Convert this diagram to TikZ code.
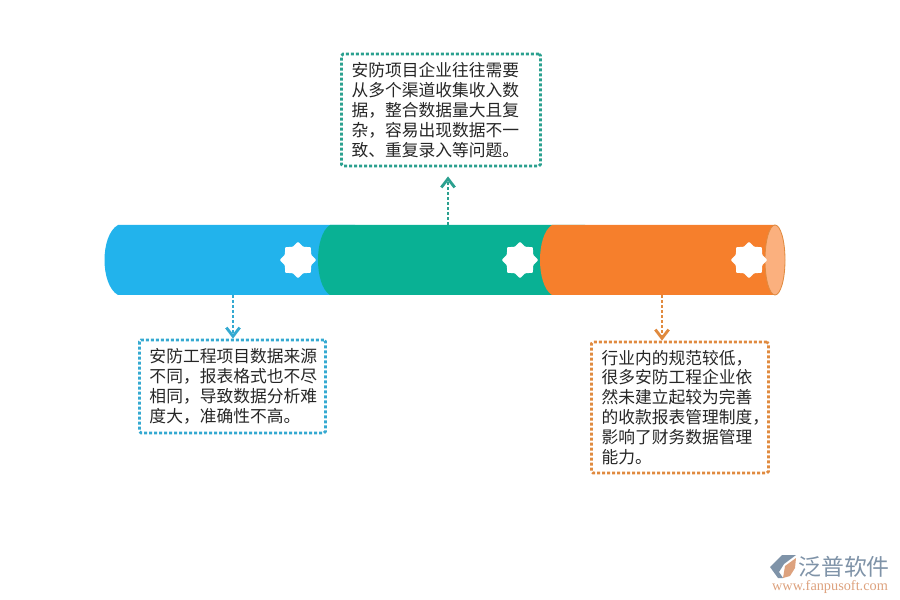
\documentclass[tikz,border=0pt]{standalone}
\usepackage{fontspec}
\newfontfamily\cjk{Noto Sans CJK SC}
\newfontfamily\urlfont{Liberation Serif}
\usetikzlibrary{arrows.meta,shapes.geometric}
\definecolor{barblue}{HTML}{22B3EC}
\definecolor{bargreen}{HTML}{09B194}
\definecolor{barorange}{HTML}{F67F2C}
\definecolor{caporange}{HTML}{FBB07E}
\definecolor{lineblue}{HTML}{34A9D1}
\definecolor{linegreen}{HTML}{2BA08F}
\definecolor{lineorange}{HTML}{E08A3F}
\definecolor{logoblue}{HTML}{7F93A8}
\definecolor{logotan}{HTML}{DDA27E}
\tikzset{
  issuebox/.style={draw=#1, line width=0.85mm, dash pattern=on 0.09cm off 0.06cm, rounded corners=0.05cm,
    align=left, inner xsep=0.3cm, inner ysep=0, text=black!85,
    font=\cjk\fontsize{14.3}{17}\selectfont},
  issuearrow/.style={draw=#1, line width=0.85mm, dash pattern=on 0.09cm off 0.06cm,
    -{Straight Barb[length=0.26cm,width=0.4cm,line width=0.85mm]}},
  startag/.style={star, star points=8, star point ratio=1.3, fill=white, minimum size=1.1cm, inner sep=0, rounded corners=0.03cm},
}
\begin{document}
\begin{tikzpicture}[x=0.03cm,y=-0.03cm]
  \useasboundingbox (0,0) rectangle (900,600);

  % bar
  \fill [barblue] (355,225) -- (118,225) .. controls (100,235) and (100,285) .. (118,295) -- (355,295) -- cycle;
  \fill [bargreen] (585,225) -- (330,225) .. controls (314,235) and (314,285) .. (330,295) -- (585,295) -- cycle;
  \fill [barorange] (775,225) -- (552,225) .. controls (536,235) and (536,285) .. (552,295) -- (775,295) -- cycle;
  \draw [fill=caporange, draw=lineorange, line width=0.25mm] (775,260) ellipse [x radius=10, y radius=35];

  \node [startag] (star1) at (298,260) {};
  \node [startag] (star2) at (520,260) {};
  \node [startag] (star3) at (749,260) {};

  \coordinate (blueout) at (233,295);
  \coordinate (greenout) at (448,225);
  \coordinate (orangeout) at (662,295);

  \node [issuebox=linegreen, text width=5.37cm, minimum height=3.36cm] (issuetop) at (441,110)
    {安防项目企业往往需要\\从多个渠道收集收入数\\据，整合数据量大且复\\杂，容易出现数据不一\\致、重复录入等问题。};
  \node [issuebox=lineblue, text width=4.98cm, minimum height=2.79cm] (issueleft) at (232.5,386.5)
    {安防工程项目数据来源\\不同，报表格式也不尽\\相同，导致数据分析难\\度大，准确性不高。};
  \node [issuebox=lineorange, text width=4.71cm, minimum height=3.93cm] (issueright) at (680,407.5)
    {行业内的规范较低，\\很多安防工程企业依\\然未建立起较为完善\\的收款报表管理制度，\\影响了财务数据管理\\能力。};

  \draw [issuearrow=lineblue] (blueout) -- (blueout |- issueleft.north);
  \draw [issuearrow=linegreen, shorten >=0.27cm] (greenout) -- (greenout |- issuetop.south);
  \draw [issuearrow=lineorange] (orangeout) -- (orangeout |- issueright.north);

  % logo
  \fill [logoblue] (770,567) -- (782,555) -- (796,555) -- (784,564) -- (779,572) -- (783,578) -- (778,578) -- cycle;
  \fill [logotan] (783,578) -- (785,566) -- (796,558) -- (795,568) -- (790,576) -- cycle;
  \node [text=logoblue, font=\cjk\fontsize{19.5}{20}\selectfont, inner sep=0] (logoname) at (844,567) {泛普软件};
  \node [text=logotan, font=\urlfont\fontsize{12.2}{13}\selectfont, inner sep=0] (logourl) at (830,587) {www.fanpusoft.com};
\end{tikzpicture}
\end{document}
